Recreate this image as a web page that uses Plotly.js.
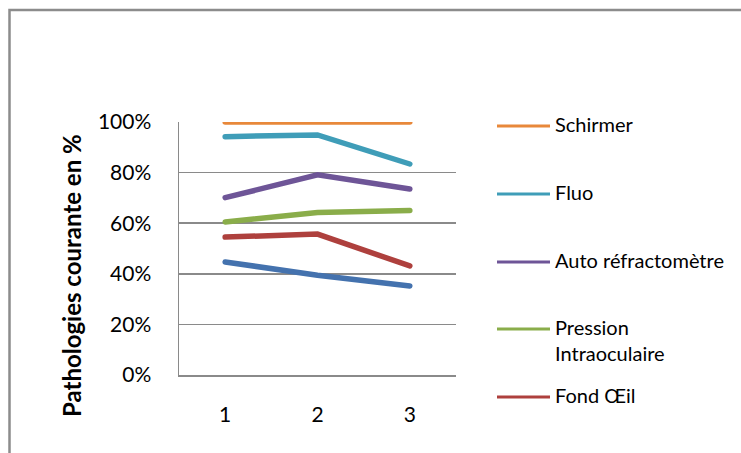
<!DOCTYPE html>
<html>
<head>
<meta charset="utf-8">
<script src="https://cdn.plot.ly/plotly-3.0.1.min.js"></script>
<style>
  html, body { margin: 0; padding: 0; background: #ffffff; }
  #chart { width: 741px; height: 453px; }
  #chart .scatterlayer path.js-line { stroke-linecap: round; }
</style>
</head>
<body>
<div id="chart"></div>
<script>
// ---- Data ----
var categories = ['1', '2', '3'];
var seriesNames = ['Schirmer', 'Fluo', 'Auto réfractomètre', 'Pression<br>Intraoculaire', 'Fond Œil', 'Série 6'];
var schirmer = [100, 100, 100];
var fluo = [94.2, 94.9, 83.4];
var autoRefracto = [70.1, 79.1, 73.5];
var pression = [60.5, 64.2, 65.0];
var fondOeil = [54.5, 55.7, 43.1];
var serie6 = [44.7, 39.4, 35.2];
var yTickValues = [0, 20, 40, 60, 80, 100];
var yTickLabels = ['0%', '20%', '40%', '60%', '80%', '100%'];
var yTitle = 'Pathologies courante en %';

var colors = ['#E8883A', '#3F9DB8', '#6E5597', '#8AAD4A', '#AE403D', '#4472AE'];
var values = [schirmer, fluo, autoRefracto, pression, fondOeil, serie6];

// ---- Geometry (pixels) ----
var W = 741, H = 453;
var M = { l: 179, r: 285, t: 122, b: 78 };
var plotW = W - M.l - M.r, plotH = H - M.t - M.b;
function px2x(px) { return (px - M.l) / plotW; }
function py2y(py) { return (H - M.b - py) / plotH; }

var traces = [];
// draw from last (blue) to first (orange) so orange is on top
for (var i = values.length - 1; i >= 0; i--) {
  traces.push({
    type: 'scatter', mode: 'lines',
    x: categories, y: values[i],
    name: seriesNames[i],
    showlegend: false,
    line: { color: colors[i], width: 5.5 },
    hoverinfo: 'skip'
  });
}

// manual legend (symbols aligned with first text line, as in the reference)
var legendY = [126, 194, 262, 329, 397];
var shapes = [];
var annotations = [];
for (var k = 0; k < 5; k++) {
  shapes.push({
    type: 'line', xref: 'paper', yref: 'paper',
    x0: px2x(497), x1: px2x(550), y0: py2y(legendY[k]), y1: py2y(legendY[k]),
    line: { color: colors[k], width: 3 }
  });
  annotations.push({
    xref: 'paper', yref: 'paper',
    x: px2x(553), y: py2y(legendY[k] - 16),
    xanchor: 'left', yanchor: 'top', align: 'left',
    text: seriesNames[k], showarrow: false,
    font: { family: 'Lato', size: 20, color: '#000000' }
  });
}

// y-axis title (placed as in the reference, lower than the plot centre)
annotations.push({
  xref: 'paper', yref: 'paper',
  x: px2x(71), y: py2y(276),
  xanchor: 'center', yanchor: 'middle',
  textangle: -90, showarrow: false,
  text: yTitle,
  font: { family: 'Lato', size: 24, color: '#000000', weight: 'bold' }
});

// outer chart border (partially visible: left and top edges)
shapes.push({
  type: 'rect', xref: 'paper', yref: 'paper', layer: 'below',
  x0: px2x(9.5), x1: px2x(W + 20), y0: py2y(10), y1: py2y(H + 20),
  line: { color: '#8C8C8C', width: 2.5 }
});

var layout = {
  width: W, height: H,
  margin: M,
  paper_bgcolor: '#ffffff', plot_bgcolor: '#ffffff',
  showlegend: false,
  font: { family: 'Lato', color: '#000000' },
  xaxis: {
    type: 'category', range: [-0.5, 2.5],
    showgrid: false, zeroline: false,
    showline: true, linecolor: '#8A8A8A', linewidth: 1.5,
    ticks: '', ticklabelstandoff: 20,
    tickfont: { family: 'Lato', size: 21, color: '#000000' }
  },
  yaxis: {
    range: [0, 100],
    tickvals: yTickValues, ticktext: yTickLabels,
    showgrid: true, gridcolor: '#8A8A8A', gridwidth: 1.5,
    zeroline: false,
    showline: true, linecolor: '#8A8A8A', linewidth: 1.5,
    ticks: '', ticklabelstandoff: 22,
    tickfont: { family: 'Lato', size: 21, color: '#000000' }
  },
  shapes: shapes,
  annotations: annotations
};

Plotly.newPlot('chart', traces, layout, { displayModeBar: false, staticPlot: true });
</script>
</body>
</html>
